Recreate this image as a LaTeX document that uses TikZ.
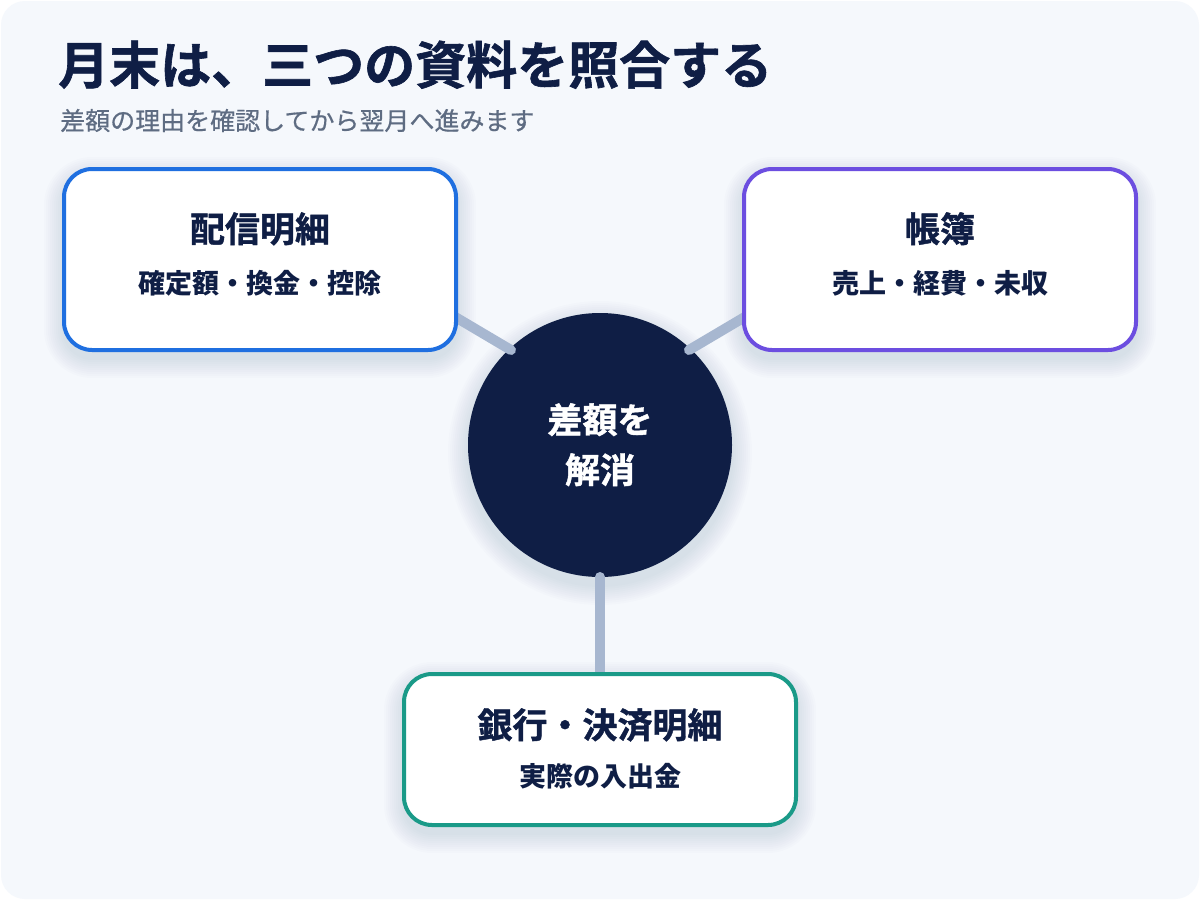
\documentclass[tikz,border=0pt]{standalone}
\usepackage{fontspec}
\setmainfont{Noto Sans CJK JP}
\newfontfamily\heavyfont{Noto Sans CJK JP}[UprightFont={* Bold}, FakeBold=1.2]
\newfontfamily\medfont{Noto Sans CJK JP}[FakeBold=0.6]
\definecolor{bgcard}{HTML}{F5F8FC}
\definecolor{navy}{HTML}{0F1E45}
\definecolor{subgray}{HTML}{5E6C82}
\definecolor{connc}{HTML}{A7B7D0}
\definecolor{bluec}{HTML}{1F6FE0}
\definecolor{purplec}{HTML}{6C4EE0}
\definecolor{tealc}{HTML}{1A9A88}
\definecolor{shadowc}{HTML}{2A4380}
\newcommand\softrectshadow[4]{%
  \foreach \i in {2,4,...,20}{%
    \fill[shadowc, opacity=0.011, rounded corners={28+\i}]
      ({#1-\i},{#2+8-\i}) rectangle ({#3+\i},{#4+8+\i});}}
\newcommand\softcircshadow[3]{%
  \foreach \i in {2,4,...,20}{%
    \fill[shadowc, opacity=0.011] (#1,{#2+8}) circle ({#3+\i});}}
\tikzset{
  card/.style={draw=#1, line width=4pt, fill=white, rounded corners=28pt,
    minimum width=392pt, minimum height=181pt, inner sep=0pt},
  conn/.style={draw=connc, line width=10pt, line cap=round},
  hub/.style={circle, fill=navy, minimum size=264pt, inner sep=0pt},
  ctitle/.style={font=\heavyfont\fontsize{35}{40}\selectfont, text=navy},
  csub/.style={font=\bfseries\fontsize{27}{32}\selectfont, text=navy},
}
\begin{document}
\begin{tikzpicture}[x=1pt,y=-1pt]
\useasboundingbox (0,0) rectangle (1200,900);
\fill[white] (0,0) rectangle (1200,900);
\fill[bgcard, rounded corners=24pt] (1,1) rectangle (1199,899);
% title
\node[anchor=base west, inner sep=0pt, text=navy, font=\heavyfont\fontsize{51}{56}\selectfont] (title) at (58,84) {月末は、三つの資料を照合する};
\node[anchor=base west, inner sep=0pt, text=subgray, font=\medfont\fontsize{25}{30}\selectfont] (subtitle) at (60,130) {差額の理由を確認してから翌月へ進みます};
% shadows
\softrectshadow{64}{169}{456}{350}
\softrectshadow{744}{169}{1136}{350}
\softrectshadow{404}{674}{796}{825}
\softcircshadow{600}{445}{132}
% hub
\node[hub] (hub) at (600,445) {};
% connectors
\coordinate (p1) at (440,308);
\coordinate (q1) at (511,350);
\coordinate (p2) at (760,308);
\coordinate (q2) at (689,350);
\coordinate (p3) at (600,690);
\coordinate (q3) at (600,577);
\draw[conn] (p1) -- (q1);
\draw[conn] (p2) -- (q2);
\draw[conn] (p3) -- (q3);
\node[anchor=base, text=white, font=\heavyfont\fontsize{35}{40}\selectfont] (hubtext1) at (600,433) {差額を};
\node[anchor=base, text=white, font=\heavyfont\fontsize{35}{40}\selectfont] (hubtext2) at (600,483) {解消};
% cards
\node[card=bluec] (b1) at (260,259.5) {};
\node[ctitle, anchor=base] (b1t) at (260,242) {配信明細};
\node[csub, anchor=base] (b1s) at (260,293) {確定額・換金・控除};
\node[card=purplec] (b2) at (940,259.5) {};
\node[ctitle, anchor=base] (b2t) at (940,242) {帳簿};
\node[csub, anchor=base] (b2s) at (940,293) {売上・経費・未収};
\node[card=tealc, minimum height=151pt] (b3) at (600,749.5) {};
\node[ctitle, anchor=base] (b3t) at (600,738) {銀行・決済明細};
\node[csub, anchor=base] (b3s) at (600,786) {実際の入出金};
\end{tikzpicture}
\end{document}
